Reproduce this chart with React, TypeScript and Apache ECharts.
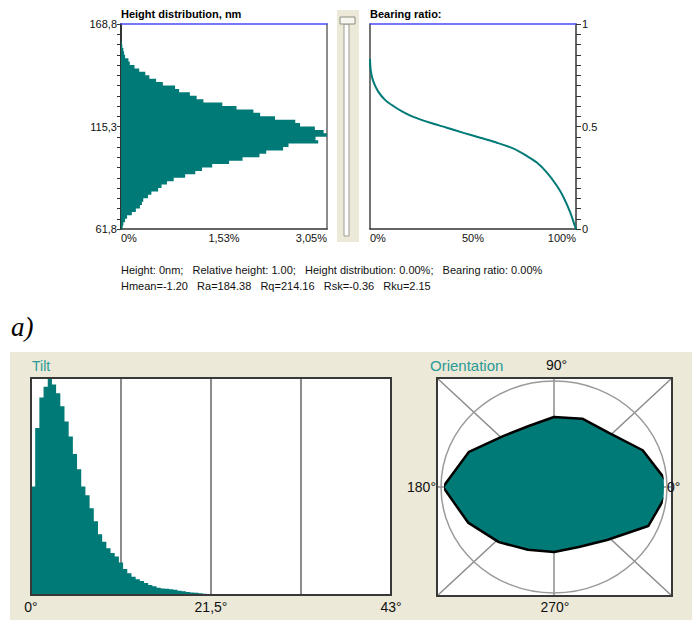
import { useEffect, useRef } from 'react';
import * as echarts from 'echarts';

const TEAL = '#007a76';
const TEAL_TEXT = '#2a9a96';
const FONT = 'Liberation Sans, Arial, sans-serif';

// ---- Height distribution (percent per bin, from 61.8 nm upwards) ----
const heightMin = 61.8;
const heightMax = 168.8;
const heightPercent = [
  0.025, 0.035, 0.06, 0.09, 0.16, 0.22, 0.28, 0.31, 0.33, 0.4,
  0.45, 0.55, 0.6, 0.68, 0.78, 0.95, 1.1, 1.2, 1.35, 1.6,
  1.8, 2.05, 2.15, 2.4, 2.48, 2.92, 2.88, 3.05, 3.0, 2.87,
  2.65, 2.58, 2.28, 2.06, 1.96, 1.71, 1.5, 1.22, 1.12, 1.02,
  0.86, 0.8, 0.62, 0.52, 0.42, 0.36, 0.27, 0.2, 0.13, 0.11,
  0.06, 0.045, 0.035, 0.02, 0.01, 0, 0, 0, 0, 0,
];
const heightAxisLabels = ['61,8', '115,3', '168,8'];
const heightPctLabels = ['0%', '1,53%', '3,05%'];

// ---- Bearing ratio curve ----
const bearingRatio = [0, 0.4, 1.6, 4, 7.3, 11.3, 16.2, 21, 29.2, 37.3, 45.4, 53.5, 61.6, 69.7, 76.2, 81, 85.9, 90.8, 94, 97.2, 99.4, 100];
const bearingHeight = [0.83, 0.77, 0.72, 0.67, 0.63, 0.6, 0.57, 0.547, 0.518, 0.494, 0.469, 0.445, 0.421, 0.392, 0.356, 0.324, 0.275, 0.21, 0.154, 0.081, 0.016, 0];
const bearingXLabels = ['0%', '50%', '100%'];
const bearingYLabels = ['0', '0.5', '1'];

// ---- Tilt histogram (0.5° bins from 0°) ----
const tiltBin = 0.5;
const tiltValues = [
  50, 77, 91, 96, 99.5, 97, 93, 87, 80, 73,
  65, 58, 50, 46, 40, 34, 28, 24.5, 21.5, 19.3,
  17.7, 15, 12, 10, 8.4, 7.3, 6.4, 5.5, 4.6, 4.0,
  3.3, 3.0, 2.9, 2.7, 2.4, 2.0, 1.7, 1.4, 1.2, 1.0,
  0.8, 0.6, 0.5, 0.35, 0.3, 0.25, 0.3, 0.2, 0.25, 0.2,
  0.2, 0.15, 0.15, 0.1,
];
const tiltLabels = ['0°', '', '21,5°', '', '43°'];

// ---- Orientation rose ----
const orientAngles = [0, 22.5, 45, 67.5, 90, 112.5, 135, 157.5, 180, 202.5, 225, 247.5, 270, 292.5, 315, 337.5, 360];
const orientRadius = [117, 96, 77, 74, 70, 66, 72, 92, 111, 93, 78, 68, 65, 65, 75, 102, 117];

export default function App() {
  const ref = useRef<HTMLDivElement>(null);

  useEffect(() => {
    if (!ref.current) return;
    const chart = echarts.init(ref.current, null, { renderer: 'svg' });
    const heightBinW = (heightMax - heightMin) / heightPercent.length;

    const t = (text: string, x: number, y: number, extra: any = {}) => ({
      type: 'text',
      x,
      y,
      z: 20,
      style: {
        text,
        fontFamily: FONT,
        fontSize: 11,
        fill: '#111',
        verticalAlign: 'middle',
        align: 'left',
        ...extra,
      },
    });

    // Horizontal histogram outline: one polygon through the axis scales
    const heightRender = (params: any, api: any) => {
      if (params.dataIndex !== 0) return null;
      const pts: number[][] = [api.coord([0, heightMin])];
      heightPercent.forEach((v, i) => {
        const lo = heightMin + i * heightBinW;
        pts.push(api.coord([v, lo]));
        pts.push(api.coord([v, lo + heightBinW]));
      });
      pts.push(api.coord([0, heightMax]));
      return { type: 'polygon', shape: { points: pts }, style: { fill: TEAL } };
    };

    // Vertical histogram outline: one polygon through the axis scales
    const tiltRender = (params: any, api: any) => {
      if (params.dataIndex !== 0) return null;
      const pts: number[][] = [api.coord([0, 0])];
      tiltValues.forEach((v, i) => {
        const x0 = i * tiltBin;
        pts.push(api.coord([x0, v]));
        pts.push(api.coord([x0 + tiltBin, v]));
      });
      pts.push(api.coord([tiltValues.length * tiltBin, 0]));
      return { type: 'polygon', shape: { points: pts }, style: { fill: TEAL } };
    };

    const option: any = {
      animation: false,
      textStyle: { fontFamily: FONT },
      grid: [
        { left: 121, top: 24, width: 206, height: 205, show: false },
        { left: 370, top: 24, width: 206, height: 205, show: false },
        { left: 31, top: 378, width: 360, height: 217, show: true, backgroundColor: '#fff', borderWidth: 0 },
      ],
      polar: { center: [554, 487], radius: 110 },
      radiusAxis: {
        polarIndex: 0, min: 0, max: 110,
        axisLine: { show: false }, axisTick: { show: false }, axisLabel: { show: false }, splitLine: { show: false },
      },
      angleAxis: {
        polarIndex: 0, min: 0, max: 360, startAngle: 0, clockwise: false,
        axisLine: { show: false }, axisTick: { show: false }, axisLabel: { show: false }, splitLine: { show: false },
      },
      xAxis: [
        {
          gridIndex: 0, type: 'value', min: 0, max: 3.05, interval: 1.525,
          axisLine: { show: true, lineStyle: { color: '#333', width: 1.5 } },
          axisTick: { show: false }, splitLine: { show: false },
          axisLabel: {
            fontSize: 11, color: '#111', margin: 3,
            alignMinLabel: 'left', alignMaxLabel: 'right',
            formatter: (_v: number, i: number) => heightPctLabels[i] ?? '',
          },
        },
        {
          gridIndex: 0, type: 'value', position: 'top', min: 0, max: 3.05,
          axisLine: { show: true, onZero: false, lineStyle: { color: '#4a4aff', width: 1.5 } },
          axisTick: { show: false }, axisLabel: { show: false }, splitLine: { show: false },
        },
        {
          gridIndex: 1, type: 'value', min: 0, max: 100, interval: 50,
          axisLine: { show: true, lineStyle: { color: '#333', width: 1.5 } },
          axisTick: { show: false }, splitLine: { show: false },
          axisLabel: {
            fontSize: 11, color: '#111', margin: 3,
            alignMinLabel: 'left', alignMaxLabel: 'right',
            formatter: (_v: number, i: number) => bearingXLabels[i] ?? '',
          },
        },
        {
          gridIndex: 1, type: 'value', position: 'top', min: 0, max: 100,
          axisLine: { show: true, onZero: false, lineStyle: { color: '#4a4aff', width: 1.5 } },
          axisTick: { show: false }, axisLabel: { show: false }, splitLine: { show: false },
        },
        {
          gridIndex: 2, type: 'value', min: 0, max: 43, interval: 10.75,
          axisLine: { show: false }, axisTick: { show: false },
          splitLine: { show: true, lineStyle: { color: '#8c8c8c', width: 2 } },
          axisLabel: {
            fontSize: 14, color: '#111', margin: 5,
            formatter: (_v: number, i: number) => tiltLabels[i] ?? '',
          },
        },
      ],
      yAxis: [
        { gridIndex: 0, type: 'value', min: heightMin, max: heightMax, show: false },
        {
          gridIndex: 0, type: 'value', position: 'left', min: 0, max: 20, interval: 1,
          axisLine: { show: true, onZero: false, lineStyle: { color: '#333', width: 2 } },
          axisTick: { show: true, length: 4, lineStyle: { color: '#333', width: 1 } },
          splitLine: { show: false },
          axisLabel: {
            fontSize: 11, color: '#111', margin: 4,
            formatter: (_v: number, i: number) => (i % 10 === 0 ? heightAxisLabels[i / 10] : ''),
          },
        },
        {
          gridIndex: 0, type: 'value', position: 'right', min: 0, max: 1,
          axisLine: { show: true, onZero: false, lineStyle: { color: '#666', width: 1.5 } },
          axisTick: { show: false }, axisLabel: { show: false }, splitLine: { show: false },
        },
        {
          gridIndex: 1, type: 'value', position: 'right', min: 0, max: 1, interval: 0.05,
          axisLine: { show: true, onZero: false, lineStyle: { color: '#333', width: 1.5 } },
          axisTick: { show: true, length: 5, lineStyle: { color: '#333', width: 1 } },
          splitLine: { show: false },
          axisLabel: {
            fontSize: 11, color: '#111', margin: 6,
            formatter: (_v: number, i: number) => (i % 10 === 0 ? bearingYLabels[i / 10] : ''),
          },
        },
        {
          gridIndex: 1, type: 'value', position: 'left', min: 0, max: 1,
          axisLine: { show: true, onZero: false, lineStyle: { color: '#444', width: 1.5 } },
          axisTick: { show: false }, axisLabel: { show: false }, splitLine: { show: false },
        },
        { gridIndex: 2, type: 'value', min: 0, max: 100, show: false },
      ],
      series: [
        {
          type: 'custom',
          xAxisIndex: 0,
          yAxisIndex: 0,
          data: heightPercent.map((v, i) => [v, heightMin + i * heightBinW]),
          renderItem: heightRender,
        },
        {
          type: 'line',
          xAxisIndex: 2,
          yAxisIndex: 3,
          data: bearingRatio.map((x, i) => [x, bearingHeight[i]]),
          showSymbol: false,
          symbol: 'none',
          smooth: 0.3,
          lineStyle: { color: TEAL, width: 2 },
        },
        {
          type: 'custom',
          xAxisIndex: 4,
          yAxisIndex: 5,
          data: tiltValues.map((v, i) => [i * tiltBin, v]),
          renderItem: tiltRender,
        },
        {
          type: 'line',
          coordinateSystem: 'polar',
          polarIndex: 0,
          data: orientRadius.map((r, i) => [r, orientAngles[i]]),
          symbol: 'none',
          showSymbol: false,
          lineStyle: { color: '#000', width: 2.5 },
          areaStyle: { color: TEAL, opacity: 1 },
          z: 5,
        },
      ],
      graphic: [
        // bottom panel background
        { type: 'rect', z: -10, shape: { x: 10, y: 352, width: 682, height: 268 }, style: { fill: '#ece9d8' } },
        // orientation box
        { type: 'rect', z: -5, shape: { x: 437, y: 378, width: 235, height: 218 }, style: { fill: '#fff' } },
        { type: 'line', z: 1, shape: { x1: 437, y1: 487, x2: 672, y2: 487 }, style: { stroke: '#8c8c8c', lineWidth: 1.5 } },
        { type: 'line', z: 1, shape: { x1: 554, y1: 378, x2: 554, y2: 596 }, style: { stroke: '#8c8c8c', lineWidth: 1.5 } },
        { type: 'line', z: 1, shape: { x1: 437, y1: 378, x2: 672, y2: 596 }, style: { stroke: '#8c8c8c', lineWidth: 1.5 } },
        { type: 'line', z: 1, shape: { x1: 437, y1: 596, x2: 672, y2: 378 }, style: { stroke: '#8c8c8c', lineWidth: 1.5 } },
        { type: 'ellipse', z: 1, shape: { cx: 554, cy: 487, rx: 113, ry: 106 }, style: { fill: 'none', stroke: '#9a9a9a', lineWidth: 1.5 } },
        { type: 'rect', z: 10, shape: { x: 437, y: 378, width: 235, height: 218 }, style: { fill: 'none', stroke: '#383838', lineWidth: 2 } },
        // tilt box border
        { type: 'rect', z: 10, shape: { x: 31, y: 378, width: 360, height: 217 }, style: { fill: 'none', stroke: '#383838', lineWidth: 2 } },
        // slider
        { type: 'rect', z: 1, shape: { x: 337, y: 10, width: 22, height: 232 }, style: { fill: '#ece9d8' } },
        { type: 'rect', z: 2, shape: { x: 344, y: 24, width: 5, height: 212 }, style: { fill: '#fdfdfd', stroke: '#9d9d92', lineWidth: 1 } },
        { type: 'rect', z: 3, shape: { x: 340, y: 17, width: 15, height: 7 }, style: { fill: '#f7f6f1', stroke: '#8e8e80', lineWidth: 1 } },
        // titles and texts
        t('Height distribution, nm', 121, 14, { fontWeight: 'bold', fill: '#000' }),
        t('Bearing ratio:', 370, 14, { fontWeight: 'bold', fill: '#000' }),
        t('Height: 0nm;   Relative height: 1.00;   Height distribution: 0.00%;   Bearing ratio: 0.00%', 121, 270),
        t('Hmean=-1.20   Ra=184.38   Rq=214.16   Rsk=-0.36   Rku=2.15', 121, 286),
        t('a)', 11, 327, { fontFamily: 'Liberation Serif, Times New Roman, serif', fontStyle: 'italic', fontSize: 27, fill: '#000' }),
        t('Tilt', 32, 366, { fontSize: 14, fill: TEAL_TEXT }),
        t('Orientation', 430, 365, { fontSize: 15, fill: TEAL_TEXT }),
        t('90°', 546, 365, { fontSize: 14, fill: '#111' }),
        t('270°', 555, 607, { fontSize: 14, fill: '#111', align: 'center' }),
        t('180°', 436, 487, { fontSize: 14, fill: '#111', align: 'right' }),
        t('0°', 667, 487, { fontSize: 14, fill: '#111' }),
      ],
    };

    chart.setOption(option);
    return () => chart.dispose();
  }, []);

  return (
    <div
      ref={ref}
      style={{ position: 'absolute', left: 0, top: 0, width: 692, height: 620, background: '#fff' }}
    />
  );
}
